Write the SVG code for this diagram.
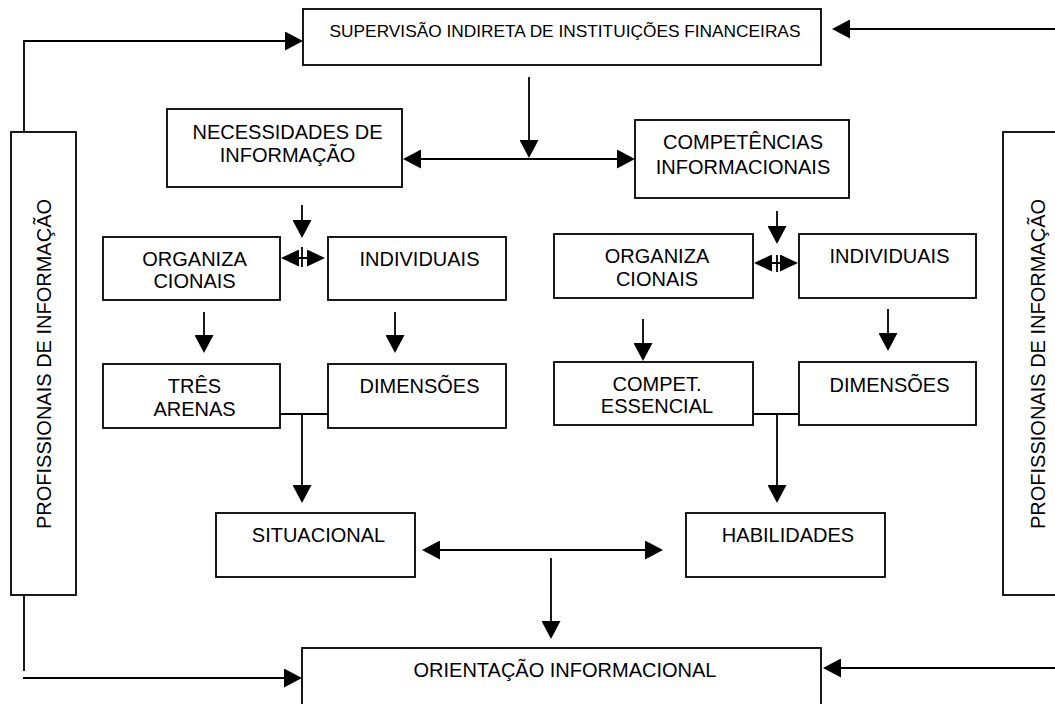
<svg xmlns="http://www.w3.org/2000/svg" width="1055" height="704" viewBox="0 0 1055 704">
  <style>
    .box { fill: #ffffff; stroke: #000000; stroke-width: 1.8; }
    .lbl { font-family: "Liberation Sans", Arial, sans-serif; font-size: 20px; fill: #000000; text-anchor: middle; }
    .lbl-sm { font-size: 17.3px; }
    .wire { fill: none; stroke: #000000; stroke-width: 1.8; }
    .arr { marker-end: url(#head); }
    .arr2 { marker-start: url(#head); marker-end: url(#head); }
    .arr2s { marker-start: url(#headSm); marker-end: url(#headSm); }
  </style>
  <defs>
    <marker id="head" markerUnits="userSpaceOnUse" viewBox="0 0 18 19" markerWidth="18" markerHeight="19" refX="14" refY="9.5" orient="auto-start-reverse">
      <path d="M0,0 L18,9.5 L0,19 z" fill="#000000"/>
    </marker>
    <marker id="headSm" markerUnits="userSpaceOnUse" viewBox="0 0 18 17" markerWidth="18" markerHeight="17" refX="14" refY="8.5" orient="auto-start-reverse">
      <path d="M0,0 L18,8.5 L0,17 z" fill="#000000"/>
    </marker>
  </defs>

  <rect width="1055" height="704" fill="#ffffff"/>

  <!-- connectors -->
  <g id="connectors">
    <!-- feedback loops from the side panels -->
    <polyline class="wire arr" points="24,132 24,41 299,41"/>
    <line class="wire arr" x1="1055" y1="29" x2="836" y2="29"/>
    <line class="wire" x1="24" y1="595" x2="24" y2="671"/>
    <line class="wire arr" x1="23" y1="678" x2="298" y2="678"/>
    <line class="wire arr" x1="1055" y1="668" x2="827" y2="668"/>

    <!-- top level split -->
    <line class="wire arr" x1="529" y1="77" x2="529" y2="154"/>
    <line class="wire arr2" x1="407" y1="159" x2="631" y2="159"/>

    <!-- left branch -->
    <line class="wire arr" x1="302" y1="205" x2="302" y2="234"/>
    <line class="wire arr2s" x1="285" y1="258" x2="321" y2="258"/>
    <line class="wire" x1="302" y1="247" x2="302" y2="267"/>
    <line class="wire arr" x1="204" y1="312" x2="204" y2="349"/>
    <line class="wire arr" x1="395" y1="312" x2="395" y2="349"/>
    <line class="wire" x1="280" y1="414" x2="328" y2="414"/>
    <line class="wire arr" x1="302" y1="414" x2="302" y2="499"/>

    <!-- right branch -->
    <line class="wire arr" x1="777" y1="211" x2="777" y2="240"/>
    <line class="wire arr2s" x1="758" y1="263" x2="794" y2="263"/>
    <line class="wire" x1="777" y1="255" x2="777" y2="272"/>
    <line class="wire arr" x1="643" y1="319" x2="643" y2="357"/>
    <line class="wire arr" x1="888" y1="309" x2="888" y2="347"/>
    <line class="wire" x1="753" y1="414" x2="799" y2="414"/>
    <line class="wire arr" x1="777" y1="414" x2="777" y2="499"/>

    <!-- bottom merge -->
    <line class="wire arr2" x1="426" y1="550" x2="659" y2="550"/>
    <line class="wire arr" x1="551" y1="558" x2="551" y2="635"/>
  </g>

  <g id="supervisao">
    <rect class="box" x="303" y="9" width="518" height="56"/>
    <text class="lbl lbl-sm" x="565" y="37">SUPERVISÃO INDIRETA DE INSTITUIÇÕES FINANCEIRAS</text>
  </g>

  <g id="profissionais-esq">
    <rect class="box" x="11" y="132" width="65" height="463"/>
    <text class="lbl" transform="translate(51,364) rotate(-90)">PROFISSIONAIS DE INFORMAÇÃO</text>
  </g>

  <g id="profissionais-dir">
    <rect class="box" x="1003" y="132" width="70" height="463"/>
    <text class="lbl" transform="translate(1045,364) rotate(-90)">PROFISSIONAIS DE INFORMAÇÃO</text>
  </g>

  <g id="necessidades">
    <rect class="box" x="167" y="109" width="235" height="78"/>
    <text class="lbl" x="287.5" y="139">NECESSIDADES DE</text>
    <text class="lbl" x="287.5" y="162">INFORMAÇÃO</text>
  </g>

  <g id="competencias">
    <rect class="box" x="635" y="120" width="214" height="78"/>
    <text class="lbl" x="743" y="149">COMPETÊNCIAS</text>
    <text class="lbl" x="743" y="174">INFORMACIONAIS</text>
  </g>

  <g id="organizacionais-nec">
    <rect class="box" x="103" y="237" width="177" height="63"/>
    <text class="lbl" x="194.5" y="266">ORGANIZA</text>
    <text class="lbl" x="194.5" y="288">CIONAIS</text>
  </g>

  <g id="individuais-nec">
    <rect class="box" x="328" y="237" width="178" height="63"/>
    <text class="lbl" x="419.5" y="266">INDIVIDUAIS</text>
  </g>

  <g id="tres-arenas">
    <rect class="box" x="103" y="364" width="177" height="64"/>
    <text class="lbl" x="194.5" y="393">TRÊS</text>
    <text class="lbl" x="194.5" y="416">ARENAS</text>
  </g>

  <g id="dimensoes-nec">
    <rect class="box" x="328" y="364" width="178" height="64"/>
    <text class="lbl" x="419.5" y="393">DIMENSÕES</text>
  </g>

  <g id="organizacionais-comp">
    <rect class="box" x="554" y="234" width="199" height="64"/>
    <text class="lbl" x="657" y="263">ORGANIZA</text>
    <text class="lbl" x="657" y="286">CIONAIS</text>
  </g>

  <g id="individuais-comp">
    <rect class="box" x="799" y="234" width="177" height="64"/>
    <text class="lbl" x="889.5" y="263">INDIVIDUAIS</text>
  </g>

  <g id="compet-essencial">
    <rect class="box" x="554" y="362" width="199" height="63"/>
    <text class="lbl" x="657" y="391">COMPET.</text>
    <text class="lbl" x="657" y="413">ESSENCIAL</text>
  </g>

  <g id="dimensoes-comp">
    <rect class="box" x="799" y="362" width="177" height="63"/>
    <text class="lbl" x="889.5" y="391.5">DIMENSÕES</text>
  </g>

  <g id="situacional">
    <rect class="box" x="216" y="513" width="199" height="64"/>
    <text class="lbl" x="318.5" y="542">SITUACIONAL</text>
  </g>

  <g id="habilidades">
    <rect class="box" x="686" y="513" width="199" height="64"/>
    <text class="lbl" x="788" y="542">HABILIDADES</text>
  </g>

  <g id="orientacao">
    <rect class="box" x="302" y="648" width="519" height="70"/>
    <text class="lbl" x="565" y="677">ORIENTAÇÃO INFORMACIONAL</text>
  </g>
</svg>
